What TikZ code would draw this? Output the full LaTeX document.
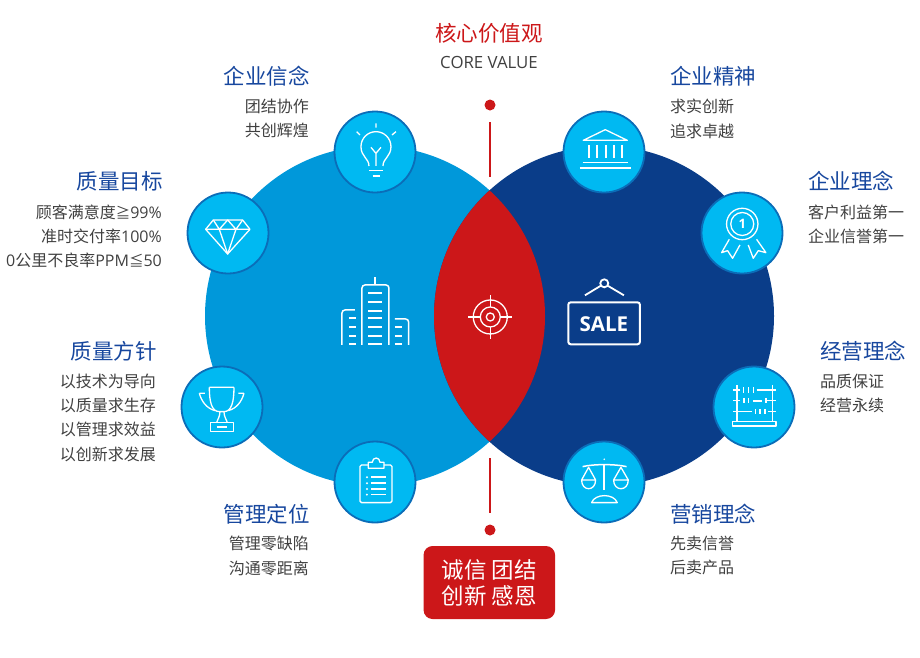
\documentclass[tikz,border=0pt]{standalone}
\usepackage{fontspec}
\newfontfamily\cjk{Noto Sans CJK SC}
\newfontfamily\lat{Open Sans}
\definecolor{bluel}{HTML}{0098DA}
\definecolor{blued}{HTML}{0A3D89}
\definecolor{redm}{HTML}{CC1719}
\definecolor{cyanm}{HTML}{00B9F2}
\definecolor{ringc}{HTML}{0B6DB8}
\definecolor{headc}{HTML}{17479E}
\definecolor{bodyc}{HTML}{404040}
\newcommand{\smsym}[1]{{\fontsize{14.5}{24.3}\selectfont #1}}
\tikzset{
  headl/.style={inner sep=0pt,text=headc,font=\cjk\fontsize{21.5}{26}\selectfont},
  bodyl/.style={inner sep=0pt,text=bodyc,font=\cjk\fontsize{16}{24.3}\selectfont},
  badge/.style={circle,draw=ringc,line width=1.8pt,fill=cyanm,minimum size=81pt,inner sep=0pt},
  ico/.style={draw=white,line width=1.3pt,line join=round},
  icothick/.style={draw=white,line width=2.2pt},
  redline/.style={draw=redm,line width=2pt}
}
\begin{document}
\begin{tikzpicture}[x=1pt,y=-1pt]
\useasboundingbox (0,0) rectangle (920,657);
% large circles
\fill[bluel] (375,316) circle[radius=170];
\fill[blued] (604,316) circle[radius=170];
\begin{scope}
\clip (375,316) circle[radius=170];
\fill[redm] (604,316) circle[radius=170];
\end{scope}
% badges
\node[badge] (bulb) at (375,152) {};
\node[badge] (bank) at (604,152) {};
\node[badge] (gem) at (228,233) {};
\node[badge] (cup) at (222,407) {};
\node[badge] (medal) at (742,233) {};
\node[badge] (abacus) at (754,407) {};
\node[badge] (clip) at (375,482) {};
\node[badge] (scales) at (604,482) {};
% connectors and dots
\node[circle,fill=redm,minimum size=11pt,inner sep=0pt] (dottop) at (490,105) {};
\node[circle,fill=redm,minimum size=11pt,inner sep=0pt] (dotbot) at (490,530) {};
\coordinate (lta) at (490,122); \coordinate (ltb) at (490,177);
\coordinate (lba) at (490,458); \coordinate (lbb) at (490,513);
\draw[redline] (lta) -- (ltb);
\draw[redline] (lba) -- (lbb);
% icons, zoom 1 coordinates
\begin{scope}[x=0.3333pt,y=-0.3333pt,shift={(960,270)}]
\draw[ico] (147,228) .. controls (147,205) and (123,200) .. (123,170) .. controls (123,145) and (143,125) .. (168,125) .. controls (193,125) and (213,145) .. (213,170) .. controls (213,200) and (189,205) .. (189,228);
\draw[ico] (168,228) -- (168,190) (153,172) -- (168,190) -- (183,172);
\draw[ico] (148,242) -- (188,242) (158,258) -- (180,258);
\draw[ico] (168,100) -- (168,113) (110,125) -- (120,135) (228,125) -- (216,135);
\draw[ico] (790,151) -- (856,119) -- (922,151) -- cycle;
\draw[icothick] (806,165) -- (806,205) (831,165) -- (831,205) (857,165) -- (857,205) (882,165) -- (882,205) (906,165) -- (906,205);
\draw[ico] (788,217) -- (925,217);
\draw[icothick] (780,234) -- (932,234);
\end{scope}
% left gem & cup, zoom 2 coordinates
\begin{scope}[x=0.3333pt,y=-0.3333pt,shift={(510,540)}]
\draw[ico] (107,148) -- (130,120) -- (218,120) -- (240,148) -- (173,222) -- cycle;
\draw[ico] (107,148) -- (240,148) (130,120) -- (148,148) -- (173,222) -- (198,148) -- (218,120) (148,148) -- (173,120) -- (198,148);
\draw[ico] (118,622) -- (192,622) (118,622) .. controls (118,665) and (125,695) .. (148,695) (192,622) .. controls (192,665) and (185,695) .. (162,695) (148,695) -- (162,695);
\draw[ico] (88,640) -- (105,640) (222,640) -- (205,640) (88,640) .. controls (95,665) and (110,685) .. (135,692) (222,640) .. controls (215,665) and (200,685) .. (175,692);
\draw[ico] (150,695) .. controls (150,710) and (142,720) .. (140,728) (162,695) .. controls (162,710) and (170,720) .. (172,728);
\draw[ico] (122,728) rectangle (190,755);
\draw[icothick] (140,741) -- (170,741);
\end{scope}
% right medal & abacus, zoom 3 coordinates
\begin{scope}[x=0.3333pt,y=-0.3333pt,shift={(2070,540)}]
\draw[ico] (157,132) circle[radius=15.7pt];
\draw[ico] (157,132) circle[radius=11.5pt];
\node[inner sep=0pt,text=white,font=\lat\bfseries\fontsize{13}{13}\selectfont] (one) at (157,132) {1};
\draw[ico] (118,178) -- (95,218) -- (113,212) -- (128,235) -- (150,195);
\draw[ico] (200,178) -- (228,218) -- (205,212) -- (190,235) -- (175,195);
\draw[ico] (141,615) -- (141,725) (248,615) -- (248,725);
\draw[ico] (128,725) rectangle (258,738);
\draw[ico] (130,630) -- (150,630) (130,662) -- (150,662) (228,662) -- (258,662) (130,695) -- (185,695) (235,695) -- (258,695);
\draw[icothick] (200,630) -- (258,630);
\draw[ico] (160,622) -- (160,638) (175,622) -- (175,638) (190,622) -- (190,638);
\draw[ico] (162,654) -- (162,670) (175,654) -- (175,670) (228,654) -- (228,670);
\draw[ico] (197,687) -- (197,703) (210,687) -- (210,703) (225,687) -- (225,703);
\draw[icothick] (190,662) -- (215,662);
\end{scope}
% centre icons, zoom 4 coordinates
\begin{scope}[x=0.3333pt,y=-0.3333pt,shift={(960,810)}]
\draw[ico,line width=1.5pt,rounded corners=3pt] (126,225) -- (126,45) -- (207,45) -- (207,225);
\draw[ico,line width=1.5pt] (165,22) -- (165,45);
\foreach \yy in {70,95,122,145,172,197,222} \draw[icothick] (145,\yy) -- (185,\yy);
\draw[ico,line width=1.5pt,rounded corners=3pt] (66,225) -- (66,120) -- (105,120);
\draw[ico,line width=1.5pt,rounded corners=3pt] (225,147) -- (266,147) -- (266,225);
\foreach \yy in {145,172,197,222} \draw[icothick] (88,\yy) -- (107,\yy);
\foreach \yy in {172,197,222} \draw[icothick] (225,\yy) -- (245,\yy);
\draw[ico] (511,141) circle[radius=4pt] (511,141) circle[radius=10pt] (511,141) circle[radius=17pt];
\draw[ico] (445,141) -- (481,141) (541,141) -- (577,141) (511,75) -- (511,111) (511,171) -- (511,208);
\draw[draw=white,line width=2pt,rounded corners=2.5pt] (745,97) rectangle (960,223);
\draw[draw=white,line width=1.8pt] (853,40) circle[radius=4pt] (795,76) -- (843,47) (912,76) -- (863,47);
\node[inner sep=0pt,text=white,font=\lat\bfseries\fontsize{20.5}{22}\selectfont] (sale) at (852,162) {SALE};
\end{scope}
% bottom icons, zoom 5 coordinates
\begin{scope}[x=0.3333pt,y=-0.3333pt,shift={(960,1290)}]
\draw[ico,rounded corners=1.5pt] (145,105) -- (120,105) -- (120,218) -- (216,218) -- (216,105) -- (192,105);
\draw[ico] (145,115) -- (145,97) -- (157,97) .. controls (157,80) and (180,80) .. (180,97) -- (192,97) -- (192,115) -- cycle;
\foreach \yy in {142,160,177,194} {\fill[white] (141,\yy) circle[radius=1.1pt]; \draw[icothick,line width=1.6pt] (153,\yy) -- (198,\yy);}
\draw[icothick,line width=1.6pt] (853,105) -- (853,180);
\fill[white] (853,88) circle[radius=0.9pt];
\draw[ico,line width=1.5pt] (788,110) .. controls (820,102) and (885,102) .. (920,110);
\draw[ico] (806,112) -- (785,150) -- (827,150) -- cycle (785,150) .. controls (785,185) and (827,185) .. (827,150);
\draw[ico] (903,112) -- (881,150) -- (925,150) -- cycle (881,150) .. controls (881,185) and (925,185) .. (925,150);
\draw[ico] (815,218) .. controls (825,190) and (882,190) .. (892,218) -- cycle;
\end{scope}
% texts
\node[inner sep=0pt,text=redm,font=\cjk\fontsize{21.5}{26}\selectfont] (coret) at (489,33) {核心价值观};
\node[inner sep=0pt,text=bodyc,font=\lat\fontsize{16.8}{18}\selectfont] (corev) at (489,62) {CORE VALUE};
\node[headl,anchor=east] (h1) at (310,76) {企业信念};
\node[bodyl,anchor=north east,align=right] (b1) at (309,99) {团结协作\\共创辉煌};
\node[headl,anchor=east] (h2) at (163,181) {质量目标};
\node[bodyl,anchor=north east,align=right] (b2) at (162,204.5) {顾客满意度\smsym{≧}{\lat 99\%}\\准时交付率{\lat 100\%}\\{\lat 0}公里不良率{\lat PPM}\smsym{≦}{\lat 50}};
\node[headl,anchor=east] (h3) at (157,351) {质量方针};
\node[bodyl,anchor=north east,align=right] (b3) at (156,373.5) {以技术为导向\\以质量求生存\\以管理求效益\\以创新求发展};
\node[headl,anchor=east] (h4) at (310,514) {管理定位};
\node[bodyl,anchor=north east,align=right] (b4) at (309,536) {管理零缺陷\\沟通零距离};
\node[headl,anchor=west] (h5) at (670,76) {企业精神};
\node[bodyl,anchor=north west,align=left] (b5) at (670,99) {求实创新\\追求卓越};
\node[headl,anchor=west] (h6) at (808,181) {企业理念};
\node[bodyl,anchor=north west,align=left] (b6) at (808,204.5) {客户利益第一\\企业信誉第一};
\node[headl,anchor=west] (h7) at (820,351) {经营理念};
\node[bodyl,anchor=north west,align=left] (b7) at (820,373.5) {品质保证\\经营永续};
\node[headl,anchor=west] (h8) at (670,514) {营销理念};
\node[bodyl,anchor=north west,align=left] (b8) at (670,536) {先卖信誉\\后卖产品};
\node[fill=redm,rounded corners=9pt,minimum width=131.5pt,minimum height=73pt,inner sep=0pt,text=white,align=center,font=\cjk\fontsize{22.5}{26}\selectfont] (box) at (489.3,582.5) {诚信\hspace{5pt}团结\\创新\hspace{5pt}感恩};
\end{tikzpicture}
\end{document}
